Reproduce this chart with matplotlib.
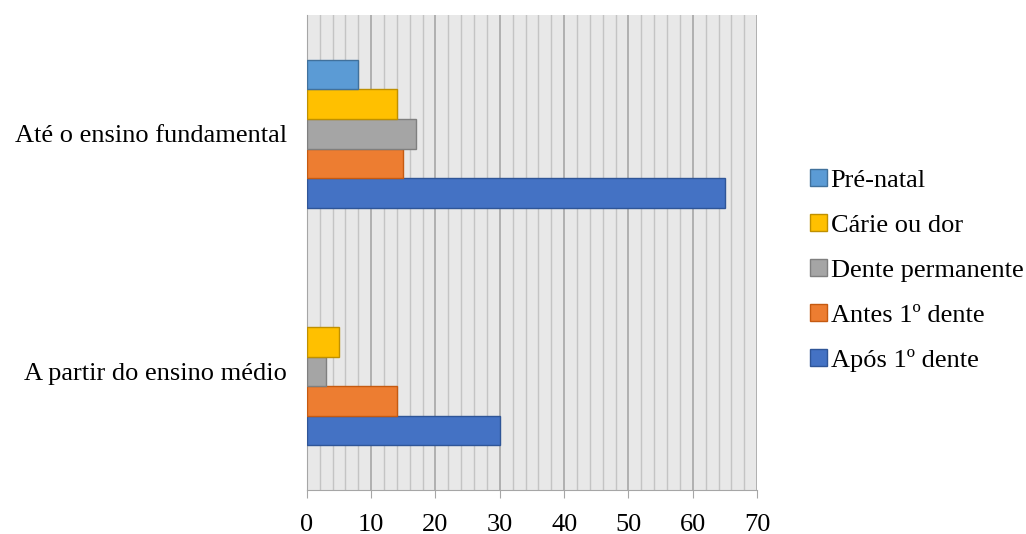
import numpy as np
import matplotlib.pyplot as plt
from matplotlib.patches import Patch
from matplotlib.ticker import MultipleLocator

plt.rcParams['font.family'] = ['Liberation Serif', 'DejaVu Serif']
plt.rcParams['font.size'] = 19

categorias = ['A partir do ensino médio', 'Até o ensino fundamental']
series = ['Após 1º dente', 'Antes 1º dente', 'Dente permanente', 'Cárie ou dor', 'Pré-natal']
apos = [30, 65]
antes = [14, 15]
permanente = [3, 17]
carie = [5, 14]
prenatal = [0, 8]
valores = [apos, antes, permanente, carie, prenatal]

cores = ['#4472C4', '#ED7D31', '#A5A5A5', '#FFC000', '#5B9BD5']
bordas = ['#2F5597', '#C55A11', '#7F7F7F', '#BF9000', '#41719C']

fig = plt.figure(figsize=(10.26, 5.34), dpi=100)
ax = fig.add_axes([0.299, 0.082, 0.439, 0.89])
ax.set_facecolor('#e8e8e8')

y = np.arange(len(categorias))
h = 0.1246
for i, (nome, vals) in enumerate(zip(series, valores)):
    pos = y - 2 * h + i * h
    barras = ax.barh(pos, vals, height=h, color=cores[i], edgecolor=bordas[i],
                     linewidth=1, zorder=3)
    # barra de valor zero nao aparece
    for b, v in zip(barras, vals):
        if v == 0:
            b.set_visible(False)

ax.set_xlim(0, 70)
ax.set_ylim(-0.5, 1.5)
ax.xaxis.set_major_locator(MultipleLocator(10))
ax.xaxis.set_minor_locator(MultipleLocator(2))
ax.grid(axis='x', which='major', color='#a6a6a6', linewidth=1.2, zorder=1)
ax.grid(axis='x', which='minor', color='#c4c4c4', linewidth=1.0, zorder=1)
ax.set_axisbelow(True)

ax.set_yticks(y)
ax.set_yticklabels(categorias)
ax.tick_params(axis='y', length=0, pad=14)
ax.tick_params(axis='x', which='major', direction='out', length=6, color='#a6a6a6', pad=11)
ax.tick_params(axis='x', which='minor', length=0)

for s in ['top', 'right']:
    ax.spines[s].set_visible(False)
ax.spines['left'].set_color('#a6a6a6')
ax.spines['bottom'].set_color('#a6a6a6')

handles = [Patch(facecolor=c, edgecolor=e, linewidth=1, label=n)
           for n, c, e in zip(series, cores, bordas)]
fig.legend(handles=handles[::-1], loc='center left',
           bbox_to_anchor=(0.766, 0.494), frameon=False,
           handlelength=0.64, handleheight=0.64, handletextpad=0.15,
           labelspacing=0.83)

fig.savefig('out.png', dpi=100)
